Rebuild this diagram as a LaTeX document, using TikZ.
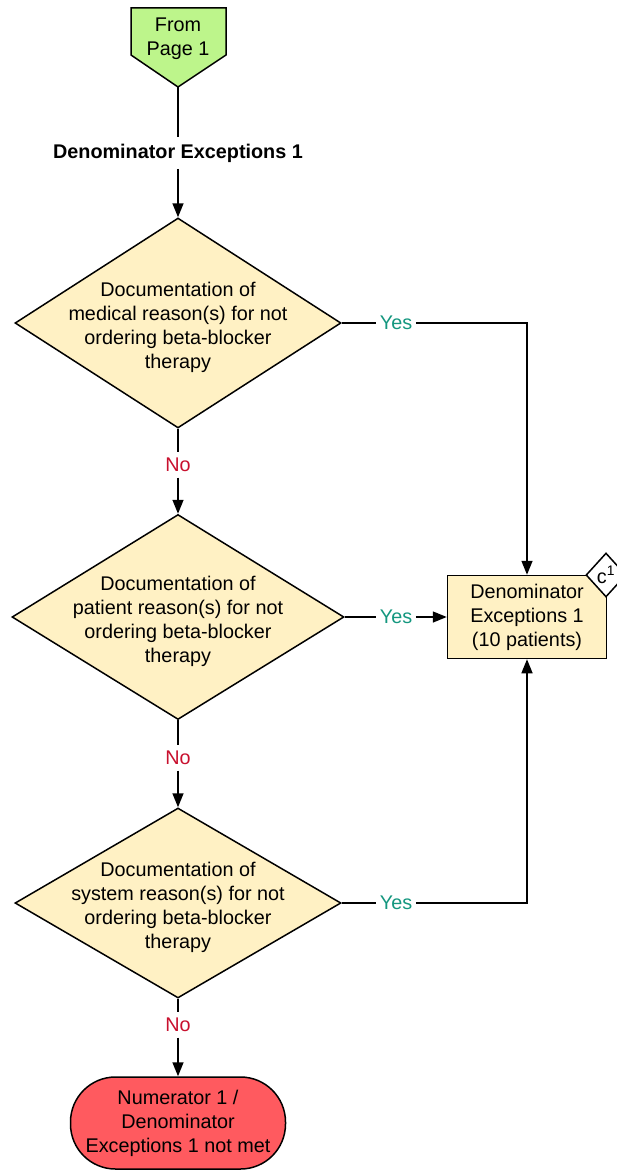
\documentclass[tikz,border=0pt]{standalone}
\usepackage{fontspec}
\setmainfont{Liberation Sans}
\usetikzlibrary{shapes.geometric,arrows.meta}
\definecolor{dfill}{HTML}{FFF1C4}
\definecolor{gfill}{HTML}{BDF58B}
\definecolor{rfill}{HTML}{FF5A5F}
\definecolor{yescol}{HTML}{14977F}
\definecolor{nocol}{HTML}{C8102E}
\begin{document}
\begin{tikzpicture}[x=1pt,y=-1pt,line width=1.5pt,
  font=\fontsize{19.8}{24}\selectfont,
  arr/.style={-{Triangle[length=14pt,width=11pt]}},
  dia/.style={shape=diamond,draw,fill=dfill,inner sep=0pt},
  txt/.style={align=center,inner sep=0pt},
  yes/.style={text=yescol,fill=white,inner sep=3pt},
  no/.style={text=nocol,fill=white,inner sep=5pt},
]
\useasboundingbox (0,0) rectangle (616,1172);
% off-page connector
\draw[fill=gfill] (131,8) -- (226,8) -- (226,55) -- (178,87) -- (131,55) -- cycle;
\node[txt] (fp) at (178,39) {From\\Page 1};
\coordinate (fpb) at (178,87);
\node[font=\fontsize{19.8}{24}\selectfont\bfseries,inner sep=6pt] (lab) at (178,153) {Denominator Exceptions 1};
% diamonds
\node[dia,minimum width=326pt,minimum height=210pt] (d1) at (178,323) {};
\node[txt] (t1) at ([yshift=-4pt]d1.center) {Documentation of\\medical reason(s) for not\\ordering beta-blocker\\therapy};
\node[dia,minimum width=332pt,minimum height=205pt] (d2) at (178,617) {};
\node[txt] (t2) at ([yshift=-4pt]d2.center) {Documentation of\\patient reason(s) for not\\ordering beta-blocker\\therapy};
\node[dia,minimum width=326pt,minimum height=190pt] (d3) at (178,903) {};
\node[txt] (t3) at ([yshift=-4pt]d3.center) {Documentation of\\system reason(s) for not\\ordering beta-blocker\\therapy};
% result box
\node[draw,fill=dfill,minimum width=159pt,minimum height=83pt,txt] (box) at (527,617) {Denominator\\Exceptions 1\\(10 patients)};
\node[shape=diamond,draw,fill=white,minimum width=40pt,minimum height=44pt,inner sep=0pt] (c1) at (606,575) {c\textsuperscript{1}};
% terminal
\node[draw,fill=rfill,rounded corners=45pt,minimum width=215pt,minimum height=92pt,txt] (term) at (178,1123) {Numerator 1 /\\Denominator\\Exceptions 1 not met};
% labels
\node[yes] (y1) at (396,323) {Yes};
\node[yes] (y2) at (396,617) {Yes};
\node[yes] (y3) at (396,903) {Yes};
\node[no] (n1) at (178,465) {No};
\node[no] (n2) at (178,758) {No};
\node[no] (n3) at (178,1025) {No};
% connectors
\draw (fpb) -- (lab);
\draw[arr] (lab) -- (d1.north);
\draw (d1.east) -- (y1);
\draw[arr] (y1) -| (box.north);
\draw (d2.east) -- (y2);
\draw[arr] (y2) -- (box.west);
\draw (d3.east) -- (y3);
\draw[arr] (y3) -| (box.south);
\draw (d1.south) -- (n1);
\draw[arr] (n1) -- (d2.north);
\draw (d2.south) -- (n2);
\draw[arr] (n2) -- (d3.north);
\draw (d3.south) -- (n3);
\draw[arr] (n3) -- (term.north);
\end{tikzpicture}
\end{document}
